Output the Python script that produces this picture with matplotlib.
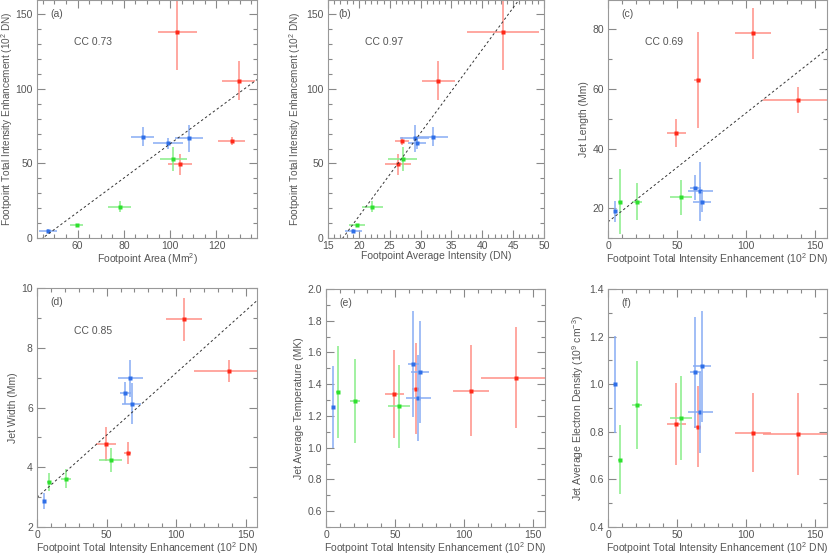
import numpy as np
import matplotlib
matplotlib.use('Agg')
import matplotlib.pyplot as plt
from matplotlib.ticker import MultipleLocator

plt.rcParams['font.family'] = ['Liberation Sans', 'DejaVu Sans']
plt.rcParams['font.size'] = 7.5
plt.rcParams['text.color'] = '#555555'
plt.rcParams['axes.labelcolor'] = '#555555'
plt.rcParams['xtick.color'] = '#888888'
plt.rcParams['ytick.color'] = '#888888'
plt.rcParams['xtick.labelcolor'] = '#555555'
plt.rcParams['ytick.labelcolor'] = '#555555'
plt.rcParams['mathtext.default'] = 'regular'

# jets: 4 red, 4 blue, 3 green
groups = ['r', 'r', 'r', 'r', 'b', 'b', 'b', 'b', 'g', 'g', 'g']

# footpoint total intensity enhancement (10^2 DN)
enh = [49.5, 65.0, 105.5, 138.0, 5.0, 63.5, 67.0, 68.0, 8.5, 21.0, 53.0]
enh_err = [7.0, 2.5, 13.0, 25.5, 1.0, 3.7, 9.0, 6.6, 1.0, 3.6, 8.2]

# footpoint area (Mm^2)
area = [104.2, 126.5, 129.6, 103.0, 47.4, 99.2, 108.1, 88.1, 59.6, 78.3, 101.4]
area_err = [5.3, 5.7, 7.0, 8.4, 3.9, 6.5, 6.0, 4.9, 2.7, 5.0, 6.0]

# footpoint average intensity (DN)
avg = [26.3, 27.0, 32.9, 43.4, 19.1, 29.4, 29.05, 32.0, 19.75, 22.2, 27.1]
avg_err = [2.1, 1.1, 2.6, 5.8, 1.35, 1.5, 2.35, 2.4, 1.3, 1.7, 2.4]

# jet length (Mm)
length = [45.2, 63.0, 78.6, 56.3, 18.9, 26.9, 25.7, 22.2, 22.2, 22.2, 23.6]
length_err = [4.6, 16.0, 8.7, 4.3, 3.4, 4.3, 9.9, 3.6, 11.0, 6.1, 5.8]

# jet width (Mm)
width = [4.78, 4.48, 8.95, 7.22, 2.86, 6.49, 6.98, 6.13, 3.51, 3.62, 4.25]
width_err = [0.57, 0.38, 0.73, 0.37, 0.27, 0.38, 0.62, 0.68, 0.31, 0.32, 0.40]

# jet average temperature (MK)
temp = [1.337, 1.371, 1.36, 1.442, 1.259, 1.527, 1.314, 1.476, 1.352, 1.293, 1.261]
temp_err = [0.276, 0.287, 0.285, 0.316, 0.258, 0.334, 0.271, 0.32, 0.289, 0.264, 0.26]

# jet average electron density (10^9 cm^-3)
dens = [0.832, 0.822, 0.796, 0.792, 1.0, 1.05, 0.883, 1.075, 0.683, 0.912, 0.857]
dens_err = [0.173, 0.171, 0.166, 0.173, 0.204, 0.234, 0.17, 0.234, 0.145, 0.186, 0.176]

# linear fits (slope, intercept) and correlation coefficients
fit_a = (1.149, -51.7)
fit_b = (5.597, -97.4)
fit_c = (0.3645, 15.4)
fit_d = (0.0417, 2.99)
cc = {'a': 0.73, 'b': 0.97, 'c': 0.69, 'd': 0.85}

light = {'r': '#ff8f86', 'b': '#88acf4', 'g': '#88ee88'}
dark = {'r': '#ff2a1a', 'b': '#2f6fe8', 'g': '#2ee02e'}

ylab_enh = 'Footpoint Total Intensity Enhancement (10$^2$ DN)'

fig = plt.figure(figsize=(8.3, 5.55), dpi=100)
W, H = 830.0, 555.0


def make_ax(x0, x1, y0, y1):
    return fig.add_axes([x0 / W, 1 - y1 / H, (x1 - x0) / W, (y1 - y0) / H])


def style(ax, xmaj, xmin, ymaj, ymin):
    ax.xaxis.set_major_locator(MultipleLocator(xmaj))
    ax.xaxis.set_minor_locator(MultipleLocator(xmin))
    ax.yaxis.set_major_locator(MultipleLocator(ymaj))
    ax.yaxis.set_minor_locator(MultipleLocator(ymin))
    ax.tick_params(which='both', direction='in', top=True, right=True,
                   width=0.8, pad=3)
    ax.tick_params(axis='x', which='both', pad=2.5)
    ax.tick_params(which='major', length=6)
    ax.tick_params(which='minor', length=3)
    for s in ax.spines.values():
        s.set_color('#999999')
        s.set_linewidth(0.8)


def labels(ax, xl, yl, ypad=2.5, ysize=7.5):
    ax.set_xlabel(xl, labelpad=0)
    ax.set_ylabel(yl, labelpad=ypad, fontsize=ysize)


def scatter(ax, x, xe, y, ye):
    for i, g in enumerate(groups):
        ax.errorbar(x[i], y[i], xerr=xe[i], yerr=ye[i], fmt='none',
                    ecolor=light[g], elinewidth=1.1, capsize=0)
        ax.plot(x[i], y[i], 's', ms=2.2, color=dark[g], mec='none')


def fitline(ax, fit, xlim):
    xs = np.array(xlim)
    ax.plot(xs, fit[0] * xs + fit[1], color='#333333', lw=0.7,
            ls=(0, (2.5, 2.5)))


# (a)
ax = make_ax(37, 257, -0.5, 238)
scatter(ax, area, area_err, enh, enh_err)
fitline(ax, fit_a, (42.5, 137.5))
ax.set_xlim(42.5, 137.5)
ax.set_ylim(0, 160)
style(ax, 20, 5, 50, 10)
labels(ax, 'Footpoint Area (Mm$^2$)', ylab_enh, ypad=0.5, ysize=7.2)
ax.text(0.06, 0.94, '(a)', transform=ax.transAxes, va='center')
ax.text(0.17, 0.82, 'CC %.2f' % cc['a'], transform=ax.transAxes, va='center')

# (b)
ax = make_ax(328, 544, -0.5, 238)
scatter(ax, avg, avg_err, enh, enh_err)
fitline(ax, fit_b, (15, 50))
ax.set_xlim(15, 50)
ax.set_ylim(0, 160)
style(ax, 5, 1, 50, 10)
labels(ax, 'Footpoint Average Intensity (DN)', ylab_enh, ysize=7.2)
ax.text(0.05, 0.94, '(b)', transform=ax.transAxes, va='center')
ax.text(0.17, 0.82, 'CC %.2f' % cc['b'], transform=ax.transAxes, va='center')

# (c)
ax = make_ax(608, 827, -0.5, 238)
scatter(ax, enh, enh_err, length, length_err)
fitline(ax, fit_c, (0, 159))
ax.set_xlim(0, 159)
ax.set_ylim(10, 90)
style(ax, 50, 10, 20, 10)
labels(ax, ylab_enh, 'Jet Length (Mm)')
ax.text(0.06, 0.94, '(c)', transform=ax.transAxes, va='center')
ax.text(0.17, 0.82, 'CC %.2f' % cc['c'], transform=ax.transAxes, va='center')

# (d)
ax = make_ax(37, 257, 288, 527)
scatter(ax, enh, enh_err, width, width_err)
fitline(ax, fit_d, (0, 158))
ax.set_xlim(0, 158)
ax.set_ylim(2, 10)
style(ax, 50, 10, 2, 1)
labels(ax, ylab_enh, 'Jet Width (Mm)')
ax.text(0.06, 0.94, '(d)', transform=ax.transAxes, va='center')
ax.text(0.17, 0.82, 'CC %.2f' % cc['d'], transform=ax.transAxes, va='center')

# (e)
ax = make_ax(326, 545, 289, 527)
scatter(ax, enh, enh_err, temp, temp_err)
ax.set_xlim(0, 159)
ax.set_ylim(0.5, 2.0)
style(ax, 50, 10, 0.2, 0.1)
labels(ax, ylab_enh, 'Jet Average Temperature (MK)')
ax.text(0.06, 0.94, '(e)', transform=ax.transAxes, va='center')

# (f)
ax = make_ax(608, 827, 289, 527)
scatter(ax, enh, enh_err, dens, dens_err)
ax.set_xlim(0, 159)
ax.set_ylim(0.4, 1.4)
style(ax, 50, 10, 0.2, 0.1)
labels(ax, ylab_enh, 'Jet Average Electron Density (10$^9$ cm$^{-3}$)')
ax.text(0.06, 0.94, '(f)', transform=ax.transAxes, va='center')

fig.savefig('out.png', dpi=100)
